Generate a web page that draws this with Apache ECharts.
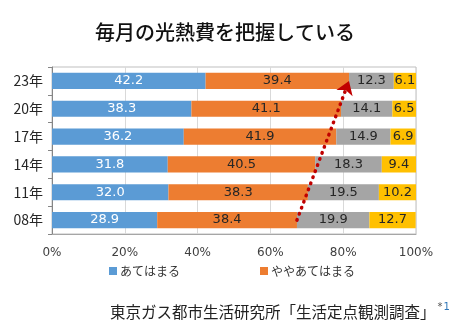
<!DOCTYPE html>
<html>
<head>
<meta charset="utf-8">
<script src="https://cdn.jsdelivr.net/npm/echarts@6/dist/echarts.min.js"></script>
<style>html,body{margin:0;padding:0;background:#fff}#c{width:450px;height:331px}</style>
</head>
<body>
<div id="c"></div>
<script>
var categories = ['08年', '11年', '14年', '17年', '20年', '23年'];
var atehamaru = [28.9, 32.0, 31.8, 36.2, 38.3, 42.2];
var yayaAtehamaru = [38.4, 38.3, 40.5, 41.9, 41.1, 39.4];
var amari = [19.9, 19.5, 18.3, 14.9, 14.1, 12.3];
var atehamaranai = [12.7, 10.2, 9.4, 6.9, 6.5, 6.1];
var xTicks = [0, 20, 40, 60, 80, 100];
var seriesNames = ['あてはまる', 'ややあてはまる', 'あまりあてはまらない', 'あてはまらない'];

var chart = echarts.init(document.getElementById('c'), null, {renderer: 'canvas'});
var numFont = 'DejaVu Sans, Verdana, sans-serif';
var jpFont = '"Noto Sans CJK JP", sans-serif';

function lbl(color) {
  return {
    show: true, position: 'inside', color: color, fontSize: 13, fontFamily: numFont,
    formatter: function (p) { return p.value.toFixed(1); }
  };
}
var start = atehamaru[0] + yayaAtehamaru[0];
var end = atehamaru[5] + yayaAtehamaru[5];

chart.setOption({
  animation: false,
  title: {
    text: '毎月の光熱費を把握している', left: 'center', top: 17,
    textStyle: {fontFamily: jpFont, fontSize: 20, fontWeight: 500, color: '#111'}
  },
  legend: {
    data: [seriesNames[0], seriesNames[1]], left: 104, top: 260,
    itemWidth: 8, itemHeight: 8, itemGap: 80, icon: 'rect',
    textStyle: {fontFamily: jpFont, fontSize: 12, color: '#333', padding: [0, 0, 0, -2]}
  },
  grid: {left: 52, right: 34, top: 67, bottom: 97, show: true, borderColor: '#BFBFBF', borderWidth: 1},
  xAxis: {
    type: 'value', min: xTicks[0], max: xTicks[xTicks.length - 1], interval: 20,
    axisLine: {show: true, lineStyle: {color: '#A6A6A6'}},
    axisTick: {show: false},
    splitLine: {lineStyle: {color: '#D9D9D9'}},
    axisLabel: {formatter: '{value}%', fontFamily: numFont, fontSize: 12, color: '#404040', margin: 13}
  },
  yAxis: {
    type: 'category', data: categories,
    axisLine: {show: true, lineStyle: {color: '#868686'}},
    axisTick: {show: true, length: 4, lineStyle: {color: '#868686'}},
    axisLabel: {fontFamily: jpFont, fontSize: 14, color: '#262626', margin: 9}
  },
  series: [
    {name: seriesNames[0], type: 'bar', stack: 's', data: atehamaru, barWidth: '58%',
     itemStyle: {color: '#5B9BD5'}, label: lbl('#fff')},
    {name: seriesNames[1], type: 'bar', stack: 's', data: yayaAtehamaru,
     itemStyle: {color: '#ED7D31'}, label: lbl('#262626')},
    {name: seriesNames[2], type: 'bar', stack: 's', data: amari,
     itemStyle: {color: '#A5A5A5'}, label: lbl('#262626')},
    {name: seriesNames[3], type: 'bar', stack: 's', data: atehamaranai,
     itemStyle: {color: '#FFC000'}, label: lbl('#262626'),
     markLine: {
       silent: true, symbol: ['none', 'arrow'], symbolSize: 13,
       label: {show: false},
       lineStyle: {color: '#C00000', width: 3.5, type: [0.5, 6], cap: 'round'},
       data: [[{coord: [start, categories[0]]}, {coord: [end, categories[5]]}]]
     }}
  ],
  graphic: [{
    type: 'text', left: 110, top: 302,
    style: {
      text: '{a|東京ガス都市生活研究所「生活定点観測調査」}{b|*}{c|1}',
      rich: {
        a: {fontFamily: jpFont, fontSize: 15.5, fill: '#222', verticalAlign: 'bottom'},
        b: {fontFamily: numFont, fontSize: 10, fill: '#555', verticalAlign: 'top', padding: [0, 0, 8, 2]},
        c: {fontFamily: numFont, fontSize: 10, fill: '#2E75B6', verticalAlign: 'top', padding: [0, 0, 8, 1]}
      }
    }
  }]
});
</script>
</body>
</html>
